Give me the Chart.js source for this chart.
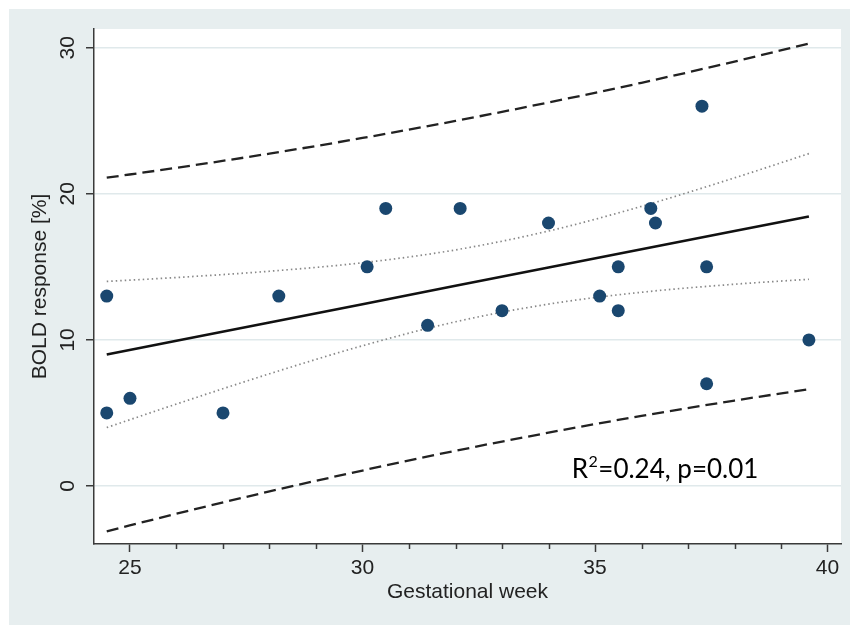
<!DOCTYPE html>
<html><head><meta charset="utf-8">
<script src="https://cdn.jsdelivr.net/npm/chart.js@4"></script>
<style>html,body{margin:0;padding:0;background:#fff;}canvas{display:block}</style>
</head><body>
<canvas id="c" width="850" height="625" style="width:850px;height:625px"></canvas>
<script>
// observations
const weekObs = [24.5, 24.5, 25.0, 27.0, 28.2, 30.1, 30.5, 31.4, 32.1, 33.0, 34.0, 35.1, 35.5, 35.5, 36.2, 36.3, 37.3, 37.4, 37.4, 39.6];
const boldObs = [13, 5, 6, 5, 13, 15, 19, 11, 19, 12, 18, 13, 15, 12, 19, 18, 26, 15, 7, 10];
// fitted line and intervals
const bandWeeks = [24.5, 26, 28, 30, 32, 34, 36, 38, 39.6];
const fitLine  = [9.0, 9.94, 11.19, 12.44, 13.70, 14.95, 16.20, 17.45, 18.45];
const ciLower  = [4.0, 5.61, 7.68, 9.60, 11.24, 12.45, 13.26, 13.81, 14.15];
const ciUpper  = [14.0, 14.27, 14.70, 15.28, 16.16, 17.45, 19.14, 21.09, 22.75];
const piLower  = [-3.1, -1.90, -0.37, 1.06, 2.41, 3.65, 4.80, 5.85, 6.62];
const piUpper  = [21.1, 21.78, 22.75, 23.82, 24.99, 26.25, 27.60, 29.05, 30.28];
// axes
const xTickValues = [25, 30, 35, 40];
const yTickValues = [0, 10, 20, 30];
const xTitle = 'Gestational week';
const yTitle = 'BOLD response [%]';
// annotation
const noteWeek = 34.5, noteBold = 0.55;
const noteBase = 'R', noteSup = '2', noteRest = '=0.24, p=0.01';

const BG = '#e7eeef';
const GRID = '#e0e9eb';
const AXIS = '#3a3a3a';
const NAVY = '#1a476f';

const pts = (xs, ys) => xs.map((x, i) => ({x, y: ys[i]}));

const decor = {
  id: 'decor',
  beforeDraw(chart) {
    const {ctx, chartArea: a, width, height} = chart;
    ctx.save();
    ctx.fillStyle = '#ffffff';
    ctx.fillRect(0, 0, width, height);
    ctx.fillStyle = BG;
    ctx.fillRect(9, 9, width - 9, height - 9);
    ctx.fillStyle = '#ffffff';
    ctx.fillRect(a.left, a.top, a.right - a.left, a.bottom - a.top);
    ctx.restore();
  },
  afterDraw(chart) {
    const {ctx, scales: {x, y}} = chart;
    ctx.save();
    // minor x ticks
    ctx.strokeStyle = AXIS;
    ctx.lineWidth = 1.5;
    for (let v = Math.ceil(x.min); v <= x.max; v++) {
      if (v % 5 === 0) continue;
      const px = Math.round(x.getPixelForValue(v)) + 0.5;
      ctx.beginPath();
      ctx.moveTo(px, y.bottom);
      ctx.lineTo(px, y.bottom + 5);
      ctx.stroke();
    }
    // annotation
    const px = x.getPixelForValue(noteWeek), py = y.getPixelForValue(noteBold);
    ctx.fillStyle = '#000';
    ctx.textBaseline = 'alphabetic';
    ctx.textAlign = 'left';
    ctx.font = '26px Lato';
    ctx.fillText(noteBase, px, py);
    let cx = px + ctx.measureText(noteBase).width + 0.5;
    ctx.font = '16px Lato';
    ctx.fillText(noteSup, cx, py - 11);
    cx += ctx.measureText(noteSup).width + 0.5;
    ctx.font = '26px Lato';
    ctx.fillText(noteRest, cx, py);
    ctx.restore();
  }
};

Chart.defaults.font.family = '"Liberation Sans", Arial, sans-serif';
Chart.defaults.color = '#222';

new Chart(document.getElementById('c'), {
  type: 'scatter',
  data: {
    datasets: [
      {data: pts(weekObs, boldObs), backgroundColor: NAVY, borderColor: NAVY, pointRadius: 6.5, pointBorderWidth: 0, showLine: false},
      {data: pts(bandWeeks, fitLine), showLine: true, borderColor: '#111', borderWidth: 2.6, pointRadius: 0},
      {data: pts(bandWeeks, ciUpper), showLine: true, borderColor: '#888', borderWidth: 1.7, borderDash: [1.5, 3], pointRadius: 0, cubicInterpolationMode: 'monotone'},
      {data: pts(bandWeeks, ciLower), showLine: true, borderColor: '#888', borderWidth: 1.7, borderDash: [1.5, 3], pointRadius: 0, cubicInterpolationMode: 'monotone'},
      {data: pts(bandWeeks, piUpper), showLine: true, borderColor: '#222', borderWidth: 2.3, borderDash: [12, 6], pointRadius: 0, cubicInterpolationMode: 'monotone'},
      {data: pts(bandWeeks, piLower), showLine: true, borderColor: '#222', borderWidth: 2.3, borderDash: [12, 6], pointRadius: 0, cubicInterpolationMode: 'monotone'}
    ]
  },
  options: {
    responsive: false,
    animation: false,
    events: [],
    layout: {padding: {top: 29, right: 9, left: 0, bottom: 0}},
    plugins: {legend: {display: false}, tooltip: {enabled: false}},
    scales: {
      x: {
        type: 'linear', min: 24.226, max: 40.29,
        afterFit: s => { s.height = 81; },
        afterBuildTicks: s => { s.ticks = xTickValues.map(v => ({value: v})); },
        ticks: {stepSize: 5, includeBounds: false, padding: 4, font: {size: 21}, color: '#222', maxRotation: 0},
        grid: {drawOnChartArea: false, drawTicks: true, tickLength: 8, tickColor: AXIS, tickWidth: 1.5},
        border: {display: true, color: AXIS, width: 1.5},
        title: {display: true, text: xTitle, font: {size: 21}, color: '#222', padding: {top: 0, bottom: 20}}
      },
      y: {
        type: 'linear', min: -3.97, max: 31.28,
        afterFit: s => { s.width = 94; },
        afterBuildTicks: s => { s.ticks = yTickValues.map(v => ({value: v})); },
        ticks: {stepSize: 10, includeBounds: false, padding: 6, font: {size: 21}, color: '#222', minRotation: 90, maxRotation: 90, crossAlign: 'center'},
        grid: {color: GRID, lineWidth: 1.5, drawTicks: true, tickLength: 8, tickColor: AXIS, tickWidth: 1.5},
        border: {display: true, color: AXIS, width: 1.5},
        title: {display: true, text: yTitle, font: {size: 21}, color: '#222', padding: {top: 28, bottom: 0}}
      }
    }
  },
  plugins: [decor]
});
</script>
</body></html>
